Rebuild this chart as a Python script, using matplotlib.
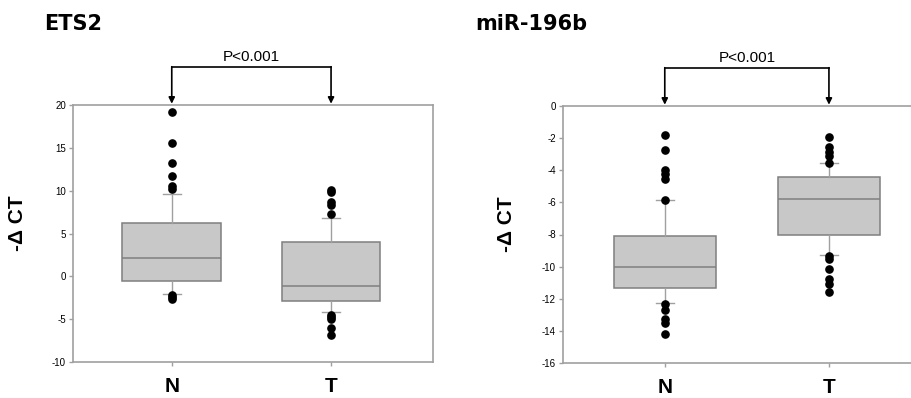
import numpy as np
import matplotlib
matplotlib.use('Agg')
import matplotlib.pyplot as plt

# Data (-delta CT)
# ----------------------------------------------------------------------------------------------
groups = ['N', 'T']

# ETS2
ets2_med = [2.1, -1.1]
ets2_q1 = [-0.6, -2.9]
ets2_q3 = [6.2, 4.0]
ets2_whislo = [-2.05, -4.2]
ets2_whishi = [9.6, 6.85]
ets2_fliers_N = [19.2, 15.6, 13.2, 11.7, 10.6, 10.2, -2.2, -2.45, -2.65]
ets2_fliers_T = [10.1, 9.9, 8.7, 8.3, 7.3, -4.5, -4.8, -5.0, -6.0, -6.8]

# miR-196b
mir_med = [-10.0, -5.76]
mir_q1 = [-11.3, -8.02]
mir_q3 = [-8.07, -4.44]
mir_whislo = [-12.27, -9.3]
mir_whishi = [-5.88, -3.55]
mir_fliers_N = [-1.8, -2.74, -3.98, -4.23, -4.56, -5.88, -12.3, -12.7, -13.27, -13.5, -14.2]
mir_fliers_T = [-1.9, -2.53, -2.84, -3.1, -3.53, -9.35, -9.5, -10.14, -10.78, -11.09, -11.59]

ets2_ticks = [-10, -5, 0, 5, 10, 15, 20]
mir_ticks = [-16, -14, -12, -10, -8, -6, -4, -2, 0]

W, H = 912, 398
fig = plt.figure(figsize=(W/100, H/100), dpi=100)

box_col = '#c8c8c8'
edge_col = '#7f7f7f'
spine_col = '#a0a0a0'


def stats(med, q1, q3, lo, hi, fl):
    out = []
    for i in range(len(med)):
        out.append(dict(med=med[i], q1=q1[i], q3=q3[i], whislo=lo[i], whishi=hi[i], fliers=fl[i]))
    return out


def panel(rect, st, ticks, ylim, title, title_x, right_spine=True):
    ax = fig.add_axes(rect)
    ax.bxp(st, positions=[1, 2], widths=0.62, patch_artist=True, showfliers=True,
           boxprops=dict(facecolor=box_col, edgecolor=edge_col, linewidth=1.1),
           medianprops=dict(color=edge_col, linewidth=1.1),
           whiskerprops=dict(color=spine_col, linewidth=1.0),
           capprops=dict(color=spine_col, linewidth=1.0),
           capwidths=0.11,
           flierprops=dict(marker='o', markerfacecolor='black', markeredgecolor='black',
                           markersize=5.2, linestyle='none'))
    ax.set_xlim(0.38, 2.64)
    ax.set_ylim(*ylim)
    ax.set_yticks(ticks)
    ax.set_yticklabels([str(t) for t in ticks], fontsize=7, family='Liberation Sans')
    ax.set_xticks([1, 2])
    ax.set_xticklabels(groups, fontsize=15, fontweight='bold', family='Liberation Sans')
    ax.tick_params(axis='both', color=spine_col, length=3, width=1)
    ax.tick_params(axis='x', pad=8)
    ax.tick_params(axis='y', pad=2)
    for s in ax.spines.values():
        s.set_color(spine_col)
        s.set_linewidth(1.2)
    ax.spines['right'].set_visible(right_spine)
    ax.set_ylabel('-\u0394 CT', fontsize=15, fontweight='bold', family='Liberation Sans', labelpad=14)
    ax.yaxis.set_label_coords(-0.128, 0.54)

    # significance bracket
    tr = ax.get_xaxis_transform()
    ybr = 1.149
    ax.plot([1, 2], [ybr, ybr], color='black', lw=1.2, transform=tr, clip_on=False)
    for xp in [1, 2]:
        ax.annotate('', xy=(xp, 1.005), xycoords=tr, xytext=(xp, ybr), textcoords=tr,
                    arrowprops=dict(arrowstyle='-|>', color='black', lw=1.2,
                                    mutation_scale=9, shrinkA=0, shrinkB=0))
    ax.text(1.5, ybr + 0.01, 'P<0.001', transform=tr, ha='center', va='bottom',
            fontsize=11, family='Liberation Sans')
    fig.text(title_x / W, 1 - 30 / H, title, fontsize=15, fontweight='bold',
             family='DejaVu Sans', ha='left', va='baseline')
    return ax


st1 = stats(ets2_med, ets2_q1, ets2_q3, ets2_whislo, ets2_whishi, [ets2_fliers_N, ets2_fliers_T])
st2 = stats(mir_med, mir_q1, mir_q3, mir_whislo, mir_whishi, [mir_fliers_N, mir_fliers_T])

panel([73 / W, (H - 362) / H, 360 / W, 257 / H], st1, ets2_ticks, (-10, 20), 'ETS2', 44)
panel([563 / W, (H - 363) / H, 371 / W, 257 / H], st2, mir_ticks, (-16, 0), 'miR-196b', 475,
      right_spine=False)

fig.savefig('out.png', dpi=100)
